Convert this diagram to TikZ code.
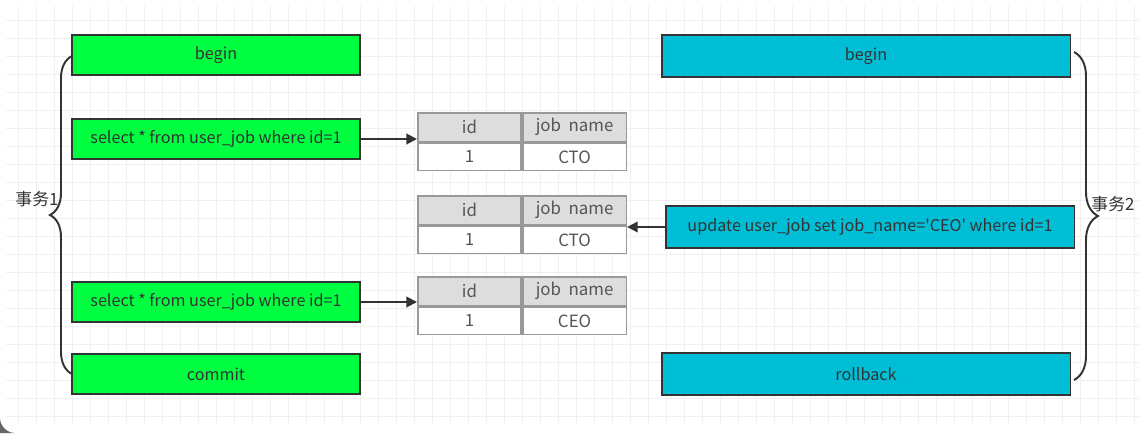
\documentclass[tikz,border=0pt]{standalone}
\usepackage{fontspec}
\setmainfont{Noto Sans CJK SC}
\usetikzlibrary{arrows.meta,decorations.pathreplacing}

\definecolor{boxgreen}{HTML}{00FF41}
\definecolor{boxcyan}{HTML}{00BED5}
\definecolor{edgegray}{HTML}{333333}
\definecolor{cellgray}{HTML}{999999}
\definecolor{headgray}{HTML}{DDDDDD}
\definecolor{textgray}{HTML}{555555}
\definecolor{gridgray}{HTML}{F0F0F0}
\definecolor{cornergray}{HTML}{666666}

\tikzset{
    stmt/.style={draw=edgegray, line width=1.1pt, minimum width=5.76cm, minimum height=0.8cm,
        inner sep=0pt, text=edgegray, font=\fontsize{9.2}{11}\selectfont},
    left stmt/.style={stmt, fill=boxgreen},
    right stmt/.style={stmt, fill=boxcyan, minimum width=8.18cm, minimum height=0.84cm},
    cell/.style={draw=cellgray, line width=0.9pt, minimum width=2.07cm, inner sep=0pt,
        text=textgray, font=\fontsize{9.6}{11}\selectfont, anchor=north west},
    headcell/.style={cell, fill=headgray, minimum height=0.58cm},
    rowcell/.style={cell, fill=white, minimum height=0.54cm},
    link/.style={draw=edgegray, line width=1.1pt, -{Triangle[length=6pt,width=6pt]}},
    bracket/.style={draw=edgegray, line width=1.1pt, decorate},
    gridline/.style={draw=gridgray, line width=0.5pt}
}

\begin{document}
\begin{tikzpicture}[x=0.02cm, y=-0.02cm]
    % Panel and grid
    \useasboundingbox (0,0) rectangle (1139,433);
    \fill[white] (0,0) rectangle (1139,433);
    \fill[cornergray] (0,433) -- (0,418) .. controls (0,426) and (7,433) .. (15,433) -- cycle;
    \foreach \gx in {18,36,...,1134} \draw[gridline] (\gx,6) -- (\gx,424);
    \foreach \gy in {20,38,...,420} \draw[gridline] (6,\gy) -- (1139,\gy);

    % Transaction 1
    \node[left stmt] (begin1) at (216,55) {begin};
    \node[left stmt] (sel1) at (216,139) {select * from user\_job where id=1};
    \node[left stmt] (sel2) at (216,302) {select * from user\_job where id=1};
    \node[left stmt] (commit1) at (216,374) {commit};

    % Transaction 2
    \node[right stmt] (begin2) at (866,56) {begin};
    \node[right stmt] (upd2) at (870,227) {update user\_job set job\_name=\textquotesingle CEO\textquotesingle{} where id=1};
    \node[right stmt] (rollback2) at (866,374) {rollback};

    % Tables
    \foreach \t/\y/\v in {1/112/CTO, 2/195/CTO, 3/276/CEO} {
        \node[headcell] (t\t id) at (417,\y) {id};
        \node[headcell] (t\t job) at (t\t id.north east) {job\hspace{0.45em}name};
        \node[rowcell] (t\t one) at (t\t id.south west) {1};
        \node[rowcell] (t\t val) at (t\t job.south west) {\v};
    }

    % Arrows
    \draw[link] (sel1.east) -- (sel1.east -| t1id.west);
    \draw[link] (upd2.west) -- (upd2.west -| t2job.east);
    \draw[link] (sel2.east) -- (sel2.east -| t3id.west);

    % Braces
    \coordinate (b1bot) at (72,374);
    \coordinate (b1top) at (72,56);
    \coordinate (b2top) at (1074,52);
    \coordinate (b2bot) at (1074,380);
    \draw[bracket, decoration={brace, amplitude=0.44cm}] (b1bot) -- (b1top);
    \draw[bracket, decoration={brace, amplitude=0.48cm}] (b2top) -- (b2bot);
    \node[text=edgegray, font=\fontsize{9.6}{11}\selectfont] (tx1) at (37,199) {事务1};
    \node[text=edgegray, font=\fontsize{9.6}{11}\selectfont] (tx2) at (1113,204) {事务2};
\end{tikzpicture}
\end{document}
